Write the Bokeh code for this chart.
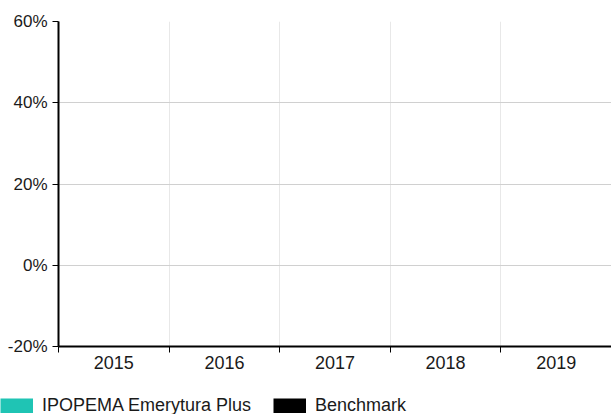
import math
from bokeh.plotting import figure
from bokeh.layouts import column
from bokeh.models import (Range1d, FixedTicker, PrintfTickFormatter, Legend, LegendItem,
                          ColumnDataSource)
from bokeh.embed import file_html
from bokeh.resources import INLINE

# ---- data ----
years = ["2015", "2016", "2017", "2018", "2019"]
fund_returns = [math.nan, math.nan, math.nan, math.nan, math.nan]
benchmark_returns = [math.nan, math.nan, math.nan, math.nan, math.nan]
series_names = ["IPOPEMA Emerytura Plus", "Benchmark"]
series_colors = ["#1fc4b4", "#000000"]
y_ticks = [-20, 0, 20, 40, 60]

FONT = "Liberation Sans"

centers = [i + 0.5 for i in range(len(years))]
bounds = [float(i) for i in range(len(years) + 1)]

p = figure(width=611, height=395, output_backend="svg", toolbar_location=None,
           x_range=Range1d(0, len(years)), y_range=Range1d(y_ticks[0], y_ticks[-1]),
           min_border_left=58, min_border_top=21, min_border_right=0, min_border_bottom=49)
p.frame_align = False
p.outline_line_color = None
p.background_fill_color = "white"
p.border_fill_color = "white"

src_f = ColumnDataSource(dict(x=[c - 0.15 for c in centers], top=fund_returns))
src_b = ColumnDataSource(dict(x=[c + 0.15 for c in centers], top=benchmark_returns))
p.vbar(x="x", top="top", bottom=0, width=0.28, source=src_f, color=series_colors[0])
p.vbar(x="x", top="top", bottom=0, width=0.28, source=src_b, color=series_colors[1])

# x axis: labels at centers, ticks at boundaries (minor)
p.xaxis.ticker = FixedTicker(ticks=centers, minor_ticks=bounds)
p.xaxis.major_label_overrides = {c: y for c, y in zip(centers, years)}
p.xaxis.major_tick_out = 0
p.xaxis.major_tick_in = 0
p.xaxis.minor_tick_out = 6
p.xaxis.minor_tick_in = 0
p.xaxis.minor_tick_line_color = "#000000"
p.xaxis.axis_line_color = "#000000"
p.xaxis.axis_line_width = 2
p.xaxis.major_label_text_font = FONT
p.xaxis.major_label_text_font_size = "18px"
p.xaxis.major_label_text_color = "#1a1a1a"
p.xaxis.major_label_standoff = 3

p.xgrid.grid_line_color = None
p.xgrid.minor_grid_line_color = "#e8e8e8"

p.yaxis.ticker = FixedTicker(ticks=y_ticks, minor_ticks=[])
p.yaxis.formatter = PrintfTickFormatter(format="%d%%")
p.yaxis.major_tick_out = 6
p.yaxis.major_tick_in = 0
p.yaxis.major_tick_line_color = "#000000"
p.yaxis.axis_line_color = "#000000"
p.yaxis.axis_line_width = 2
p.yaxis.major_label_text_font = FONT
p.yaxis.major_label_text_font_size = "17px"
p.yaxis.major_label_text_color = "#1a1a1a"
p.yaxis.major_label_standoff = 5
p.ygrid.grid_line_color = "#d0d0d0"

# ---- legend strip ----
lg = figure(width=611, height=19, output_backend="svg", toolbar_location=None,
            x_range=Range1d(0, 1), y_range=Range1d(0, 1),
            x_axis_type=None, y_axis_type=None,
            min_border_left=0, min_border_right=0, min_border_top=0, min_border_bottom=0)
lg.frame_align = False
lg.outline_line_color = None
lg.xgrid.visible = False
lg.ygrid.visible = False
l1 = lg.line(x="x", y="top", source=src_f, line_color=series_colors[0], line_width=15,
             line_cap="butt")
l2 = lg.line(x="x", y="top", source=src_b, line_color=series_colors[1], line_width=15,
             line_cap="butt")
legend = Legend(items=[LegendItem(label=series_names[0], renderers=[l1]),
                       LegendItem(label=series_names[1], renderers=[l2])],
                orientation="horizontal", location="top_left",
                padding=0, margin=0, spacing=22,
                glyph_width=33, glyph_height=15, label_standoff=9,
                label_text_font=FONT, label_text_font_size="18px",
                label_text_color="#1a1a1a", border_line_color=None,
                background_fill_alpha=0)
lg.add_layout(legend, "center")

open("out.html", "w").write(file_html(column(p, lg, spacing=0), INLINE))
